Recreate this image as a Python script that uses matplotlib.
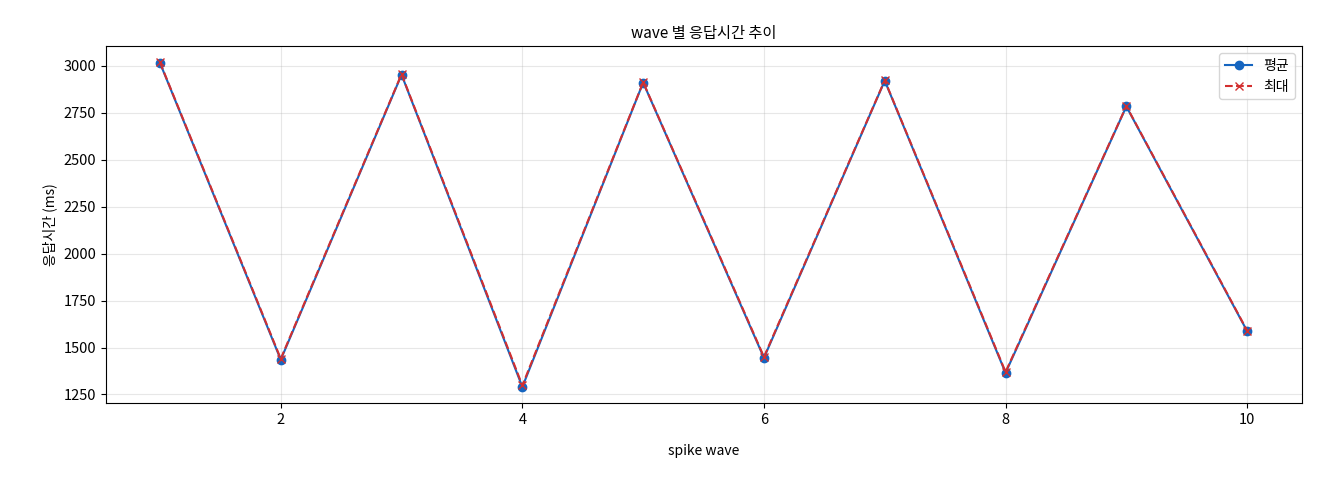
import matplotlib
matplotlib.use("Agg")
import matplotlib.pyplot as plt

plt.rcParams['font.family'] = ['Noto Sans CJK KR', 'DejaVu Sans']

waves = [1, 2, 3, 4, 5, 6, 7, 8, 9, 10]
avg_ms = [3015, 1435, 2952, 1290, 2910, 1445, 2920, 1365, 2783, 1587]
max_ms = [3018, 1440, 2955, 1298, 2912, 1450, 2922, 1370, 2785, 1590]

fig, ax = plt.subplots(figsize=(13.2, 4.8), dpi=100)
ax.plot(waves, avg_ms, marker="o", color="#1565c0", label="평균")
ax.plot(waves, max_ms, marker="x", linestyle="--", color="#d32f2f", label="최대")
ax.set_title("wave 별 응답시간 추이", fontsize=11)
ax.set_xlabel("spike wave", labelpad=12)
ax.set_ylabel("응답시간 (ms)")
ax.tick_params(labelsize=10.5)
ax.grid(True, alpha=0.3)
ax.legend(loc="upper right")
fig.subplots_adjust(left=0.08, right=0.986, top=0.904, bottom=0.16)
fig.savefig("out.png")
